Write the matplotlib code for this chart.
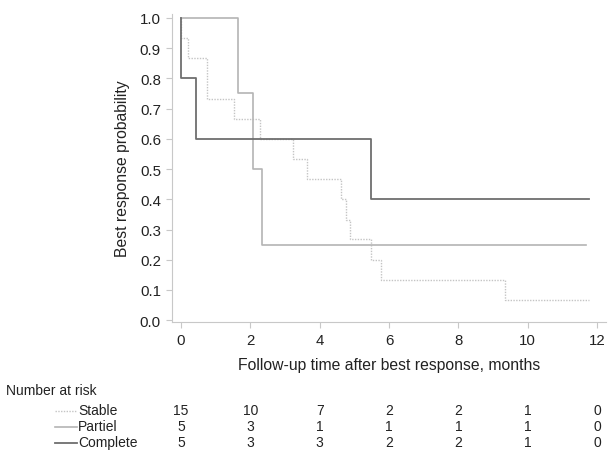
import matplotlib
matplotlib.use("Agg")
import matplotlib.pyplot as plt
from matplotlib.lines import Line2D
import matplotlib.transforms as mtransforms

plt.rcParams['font.family'] = ['Liberation Sans', 'DejaVu Sans']

# Kaplan-Meier style step data (time, probability)
stable_t = [0, 0.0, 0.19, 0.76, 1.53, 2.28, 3.22, 3.64, 4.61, 4.76, 4.88, 5.48, 5.76, 9.35, 11.76]
stable_p = [1.0, 0.933, 0.867, 0.733, 0.667, 0.6, 0.533, 0.467, 0.4, 0.333, 0.267, 0.2, 0.133, 0.067, 0.067]

partiel_t = [0, 1.64, 2.08, 2.33, 11.68]
partiel_p = [1.0, 0.75, 0.5, 0.25, 0.25]

complete_t = [0, 0.0, 0.44, 5.48, 11.76]
complete_p = [1.0, 0.8, 0.6, 0.4, 0.4]

risk_times = [0, 2, 4, 6, 8, 10, 12]
risk_labels = ["Stable", "Partiel", "Complete"]
risk_stable = [15, 10, 7, 2, 2, 1, 0]
risk_partiel = [5, 3, 1, 1, 1, 1, 0]
risk_complete = [5, 3, 3, 2, 2, 1, 0]

W, H = 608, 456
fig = plt.figure(figsize=(W / 100, H / 100), dpi=100)
ax = fig.add_axes([172 / W, 1 - 323 / H, (606 - 172) / W, (323 - 15) / H])

c_stable = '#c4c4c4'
c_partiel = '#b4b4b4'
c_complete = '#6e6e6e'

ax.step(stable_t, stable_p, where='post', color=c_stable, lw=1.0, linestyle=(0, (1, 1)))
ax.step(partiel_t, partiel_p, where='post', color=c_partiel, lw=1.2)
ax.step(complete_t, complete_p, where='post', color=c_complete, lw=1.3)

ax.set_xlim(-0.26, 12.26)
ax.set_ylim(-0.006, 1.013)
ax.set_xticks(risk_times)
ax.set_yticks([i / 10 for i in range(11)])
ax.set_yticklabels([f"{i / 10:.1f}" for i in range(11)])
for s in ['top', 'right']:
    ax.spines[s].set_visible(False)
for s in ['left', 'bottom']:
    ax.spines[s].set_color('#c8c8c8')
    ax.spines[s].set_linewidth(0.8)
ax.tick_params(axis='both', colors='#c8c8c8', labelcolor='#222222', labelsize=10.8,
               length=4, width=0.8, direction='out', pad=4)
ax.set_xlabel("Follow-up time after best response, months", fontsize=11.3, color='#222222')
ax.set_ylabel("Best response probability", fontsize=11.3, color='#222222')
ax.xaxis.set_label_coords(0.5, 1 - (366 - 15) / (323 - 15))
ax.yaxis.set_label_coords(-(172 - 122) / (606 - 172), 0.5)
ax.xaxis.label.set_va('center')
ax.yaxis.label.set_va('center')

# Number at risk table
fig.text(6 / W, 1 - 391 / H, "Number at risk", fontsize=10, color='#222222', va='center', ha='left')
trans = mtransforms.blended_transform_factory(ax.transData, fig.transFigure)
rows_y = [411.5, 427.5, 443.5]
row_vals = [risk_stable, risk_partiel, risk_complete]
row_styles = [(c_stable, (0, (1, 1)), 1.0), (c_partiel, '-', 1.2), (c_complete, '-', 1.3)]
for y, lab, vals, (col, ls, lw) in zip(rows_y, risk_labels, row_vals, row_styles):
    fy = 1 - y / H
    fig.add_artist(Line2D([55 / W, 77 / W], [fy, fy], transform=fig.transFigure,
                          color=col, linestyle=ls, lw=lw))
    fig.text(78 / W, fy, lab, fontsize=10, color='#222222', va='center', ha='left')
    for t, v in zip(risk_times, vals):
        ax.text(t, fy, str(v), transform=trans, fontsize=10, color='#222222',
                va='center', ha='center', clip_on=False)

fig.savefig("out.png", dpi=100)
